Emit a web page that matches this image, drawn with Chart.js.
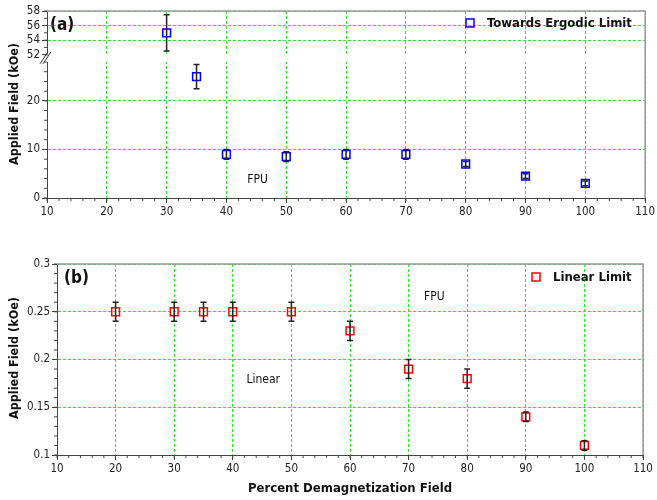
<!DOCTYPE html>
<html>
<head>
<meta charset="utf-8">
<script src="https://cdn.jsdelivr.net/npm/chart.js@4.4.1/dist/chart.umd.min.js"></script>
<style>
    body { margin: 0; background: #fff; }
    #wrapA { position: absolute; left: 0; top: 0; width: 657px; height: 228px; }
    #wrapB { position: absolute; left: 0; top: 228px; width: 657px; height: 272px; }
</style>
</head>
<body>
<div id="wrapA"><canvas id="chartA"></canvas></div>
<div id="wrapB"><canvas id="chartB"></canvas></div>
<script>
// Panel (a): towards ergodic limit
const pctA = [30, 35, 40, 50, 60, 70, 80, 90, 100];
const fieldA = [55, 25, 9, 8.5, 9, 9, 7, 4.5, 3];
const errA = [2.5, 2.5, 1, 1, 1, 1, 0.5, 0.5, 0.5];
const yTicksTopA = [52, 54, 56, 58];
const yTicksLowA = [0, 10, 20];

// Panel (b): linear limit
const pctB = [20, 30, 35, 40, 50, 60, 70, 80, 90, 100];
const fieldB = [0.25, 0.25, 0.25, 0.25, 0.25, 0.23, 0.19, 0.18, 0.14, 0.11];
const errB = [0.01, 0.01, 0.01, 0.01, 0.01, 0.01, 0.01, 0.01, 0.005, 0.005];
const yTicksB = [0.1, 0.15, 0.2, 0.25, 0.3];

const xTicks = [10, 20, 30, 40, 50, 60, 70, 80, 90, 100, 110];

const GREEN = '#36e036';
const AXIS = '#444';
const FONT = '"DejaVu Sans Condensed", "Liberation Sans", sans-serif';
const BREAK_AT = 40; // values above this go on the upper part of panel (a)

function setTicks(list) {
    return scale => { scale.ticks = list.map(v => ({ value: v })); };
}

function gridOpts() {
    return { color: GREEN, lineWidth: 1, tickLength: 5, tickColor: AXIS, tickWidth: 1 };
}

function yAxis(opts) {
    return Object.assign({
        type: 'linear',
        position: 'left',
        ticks: { color: '#222', padding: 2, autoSkip: false, font: { family: FONT, size: 11.5 }, callback: v => String(v) },
        grid: gridOpts(),
        border: { display: true, color: AXIS, width: 1, dash: [3, 2] }
    }, opts);
}

function xAxis(height, title) {
    return {
        type: 'linear',
        min: 10,
        max: 110,
        afterBuildTicks: setTicks(xTicks),
        afterFit: s => { s.height = height; },
        ticks: { color: '#222', padding: 2, autoSkip: false, font: { family: FONT, size: 11.5 } },
        grid: gridOpts(),
        border: { display: true, color: AXIS, width: 1, dash: [3, 2] },
        title: title ? { display: true, text: title, color: '#111', padding: { top: 0, bottom: 4 },
                         font: { family: FONT, size: 13, weight: 'bold' } } : { display: false }
    };
}

// axis break, error bars, minor ticks, frame and text drawn around the datasets
const extras = {
    id: 'extras',
    beforeDatasetsDraw(chart, args, opts) {
        const ctx = chart.ctx;
        const area = chart.chartArea;
        if (opts.gap) {
            const top = chart.scales[opts.gap.upper];
            const low = chart.scales[opts.gap.lower];
            const y0 = top.getPixelForValue(opts.gap.from) - 1;
            const y1 = low.top;
            ctx.save();
            ctx.fillStyle = '#fff';
            ctx.fillRect(area.left - 0.6, y0, area.right - area.left + 3, y1 - y0);
            ctx.strokeStyle = AXIS;
            ctx.lineWidth = 1;
            ctx.beginPath();
            ctx.moveTo(area.left, y0); ctx.lineTo(area.left, y0 + 2);
            ctx.stroke();
            ctx.strokeStyle = '#333';
            const mid = (y0 + y1) / 2;
            [[-7, 1], [-4, 4]].forEach(([a, b]) => {
                ctx.beginPath();
                ctx.moveTo(area.left + a, mid + 6);
                ctx.lineTo(area.left + b, mid - 6);
                ctx.stroke();
            });
            ctx.restore();
        }
    },
    afterDatasetsDraw(chart, args, opts) {
        const ctx = chart.ctx;
        ctx.save();
        ctx.strokeStyle = '#222';
        ctx.lineWidth = 1.5;
        chart.data.datasets.forEach((ds, di) => {
            const meta = chart.getDatasetMeta(di);
            const ys = chart.scales[ds.yAxisID];
            meta.data.forEach((pt, i) => {
                const v = ds.data[i].y;
                const e = ds.errors[i];
                const yt = ys.getPixelForValue(v + e);
                const yb = ys.getPixelForValue(v - e);
                ctx.beginPath();
                ctx.moveTo(pt.x, yt); ctx.lineTo(pt.x, yb);
                ctx.moveTo(pt.x - 3, yt); ctx.lineTo(pt.x + 3, yt);
                ctx.moveTo(pt.x - 3, yb); ctx.lineTo(pt.x + 3, yb);
                ctx.stroke();
            });
        });
        ctx.restore();
    },
    afterDraw(chart, args, opts) {
        const ctx = chart.ctx;
        const area = chart.chartArea;
        ctx.save();
        // minor ticks
        ctx.strokeStyle = AXIS;
        ctx.lineWidth = 1;
        (opts.minor || []).forEach(m => {
            const s = chart.scales[m.axis];
            for (let v = s.min; v <= s.max + 1e-9; v += m.step) {
                if (m.from !== undefined && v < m.from - 1e-9) continue;
                const p = s.getPixelForValue(v);
                ctx.beginPath();
                if (s.axis === 'x') {
                    ctx.moveTo(p, area.bottom); ctx.lineTo(p, area.bottom + 3);
                } else {
                    ctx.moveTo(area.left - 3, p); ctx.lineTo(area.left, p);
                }
                ctx.stroke();
            }
        });
        // top and right frame
        ctx.strokeStyle = '#9a9a9a';
        ctx.lineWidth = 1.5;
        ctx.beginPath();
        ctx.moveTo(area.left, area.top);
        ctx.lineTo(area.right, area.top);
        ctx.lineTo(area.right, area.bottom);
        ctx.stroke();

        // panel letter
        ctx.fillStyle = '#111';
        ctx.textBaseline = 'middle';
        ctx.font = 'bold 17px ' + FONT;
        ctx.fillText(opts.letter.text, opts.letter.x, opts.letter.y);

        // legend
        ctx.strokeStyle = opts.legend.color;
        ctx.lineWidth = 1.5;
        ctx.strokeRect(opts.legend.x - 4, opts.legend.y - 4, 8, 8);
        ctx.font = 'bold 13px ' + FONT;
        ctx.fillText(opts.legend.text, opts.legend.x + 17, opts.legend.y + 1);

        // region notes, placed in data units
        ctx.font = '12px ' + FONT;
        ctx.textAlign = 'center';
        opts.notes.forEach(n => {
            const x = chart.scales.x.getPixelForValue(n.x);
            const y = chart.scales[n.axis].getPixelForValue(n.y);
            ctx.fillText(n.text, x, y);
        });

        // y title
        ctx.font = 'bold 12.5px ' + FONT;
        ctx.translate(opts.ytitle.x, opts.ytitle.y);
        ctx.rotate(-Math.PI / 2);
        ctx.fillText(opts.ytitle.text, 0, 0);
        ctx.restore();
    }
};

function pick(xs, ys, errs, keep) {
    const d = [], e = [];
    xs.forEach((x, i) => {
        if (keep(ys[i])) { d.push({ x: x, y: ys[i] }); e.push(errs[i]); }
    });
    return { data: d, errors: e };
}

function markerSet(part, color, axisId) {
    return {
        data: part.data,
        errors: part.errors,
        yAxisID: axisId,
        showLine: false,
        pointStyle: 'rect',
        pointRadius: 5.5,
        pointBorderWidth: 1.5,
        borderColor: color,
        backgroundColor: 'rgba(255,255,255,0)'
    };
}

const upperA = pick(pctA, fieldA, errA, v => v > BREAK_AT);
const lowerA = pick(pctA, fieldA, errA, v => v <= BREAK_AT);

new Chart(document.getElementById('chartA'), {
    type: 'scatter',
    data: {
        datasets: [
            markerSet(upperA, '#0000ff', 'yTop'),
            markerSet(lowerA, '#0000ff', 'yLow')
        ]
    },
    options: {
        responsive: true,
        maintainAspectRatio: false,
        animation: false,
        layout: { padding: { top: 11, right: 10, left: 0, bottom: 0 } },
        scales: {
            x: xAxis(30, null),
            // stacked axes: the one defined last ends up on top
            yLow: yAxis({
                stack: 'a', stackWeight: 136, min: 0, max: 28,
                afterBuildTicks: setTicks(yTicksLowA),
                afterFit: s => { s.width = 47; }
            }),
            yTop: yAxis({
                stack: 'a', stackWeight: 51, min: 51, max: 58,
                afterBuildTicks: setTicks(yTicksTopA),
                afterFit: s => { s.width = 47; }
            })
        },
        plugins: {
            legend: { display: false },
            tooltip: { enabled: false },
            extras: {
                gap: { upper: 'yTop', lower: 'yLow', from: 52 },
                minor: [{ axis: 'x', step: 2 }, { axis: 'yLow', step: 2 }, { axis: 'yTop', step: 1, from: 52 }],
                letter: { text: '(a)', x: 50, y: 26 },
                legend: { text: 'Towards Ergodic Limit', color: '#0000ff', x: 470, y: 23 },
                notes: [{ text: 'FPU', x: 45.2, y: 3.7, axis: 'yLow' }],
                ytitle: { text: 'Applied Field (kOe)', x: 15, y: 104 }
            }
        }
    },
    plugins: [extras]
});

new Chart(document.getElementById('chartB'), {
    type: 'scatter',
    data: {
        datasets: [markerSet(pick(pctB, fieldB, errB, () => true), '#ff0000', 'y')]
    },
    options: {
        responsive: true,
        maintainAspectRatio: false,
        animation: false,
        layout: { padding: { top: 36, right: 14, left: 0, bottom: 0 } },
        scales: {
            x: xAxis(45, 'Percent Demagnetization Field'),
            y: yAxis({
                min: 0.1, max: 0.3,
                afterBuildTicks: setTicks(yTicksB),
                afterFit: s => { s.width = 57; }
            })
        },
        plugins: {
            legend: { display: false },
            tooltip: { enabled: false },
            extras: {
                minor: [{ axis: 'x', step: 2 }, { axis: 'y', step: 0.01 }],
                letter: { text: '(b)', x: 64, y: 51 },
                legend: { text: 'Linear Limit', color: '#ff0000', x: 536, y: 49 },
                notes: [
                    { text: 'FPU', x: 74.4, y: 0.2655, axis: 'y' },
                    { text: 'Linear', x: 45.2, y: 0.1785, axis: 'y' }
                ],
                ytitle: { text: 'Applied Field (kOe)', x: 15, y: 130 }
            }
        }
    },
    plugins: [extras]
});
</script>
</body>
</html>
